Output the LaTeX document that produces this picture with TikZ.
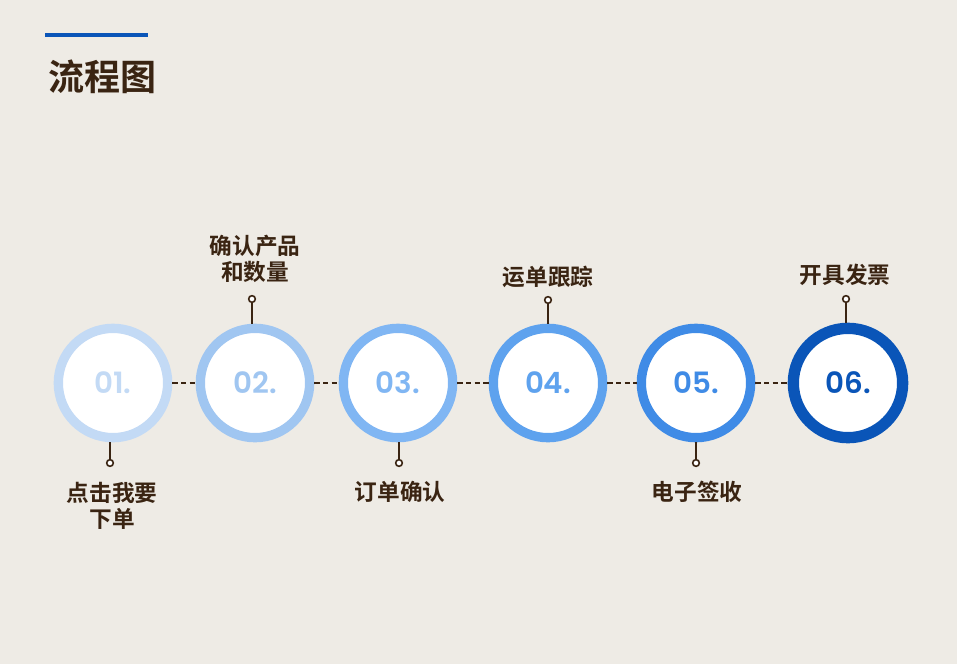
\documentclass[tikz,border=0pt]{standalone}
\usepackage{fontspec}
\newfontfamily\cjk{Noto Sans CJK SC}[BoldFont={Noto Sans CJK SC Bold}]
\newfontfamily\numfont{Poppins}[BoldFont={Poppins SemiBold}]
\definecolor{bgc}{HTML}{EEEBE5}
\definecolor{txt}{HTML}{3A2412}
\definecolor{cA}{HTML}{C3DAF5}
\definecolor{cB}{HTML}{A0C6F1}
\definecolor{cC}{HTML}{80B6F3}
\definecolor{cD}{HTML}{5EA2EE}
\definecolor{cE}{HTML}{3F8BE6}
\definecolor{cF}{HTML}{0A55B8}
\tikzset{
  ring/.style={circle, draw=#1, line width=7pt, fill=white, minimum size=82pt, inner sep=0pt,
    text=#1, font=\numfont\bfseries\fontsize{22}{22}\selectfont},
  lbl/.style={text=txt, font=\cjk\bfseries\fontsize{17}{20}\selectfont, align=center},
  pin/.style={circle, draw=txt, line width=1.2pt, fill=white, minimum size=5pt, inner sep=0pt},
  link/.style={draw=txt, line width=1.6pt, dash pattern=on 4pt off 2.5pt},
  stem/.style={draw=txt, line width=1.2pt}
}
\begin{document}
\begin{tikzpicture}[x=0.75pt, y=-0.75pt]
  \fill[bgc] (0,0) rectangle (957,664);
  \useasboundingbox (0,0) rectangle (957,664);
  % title
  \draw[cF, line width=2.4pt] (45,35) -- (148,35);
  \node[text=txt, font=\cjk\bfseries\fontsize{27}{27}\selectfont, anchor=west] (title) at (44,77) {流程图};
  % steps
  \node[ring=cA] (s1) at (113,383) {01.};
  \node[ring=cB] (s2) at (255,383) {02.};
  \node[ring=cC] (s3) at (398,383) {03.};
  \node[ring=cD] (s4) at (548,383) {04.};
  \node[ring=cE] (s5) at (696,383) {05.};
  \node[ring=cF, line width=8.5pt] (s6) at (848,383) {06.};
  \foreach \a/\b in {s1/s2, s2/s3, s3/s4, s4/s5, s5/s6}
    \draw[link] (\a.east) -- (\b.west);
  % pins
  \node[pin] (p1) at (110,463) {};
  \node[pin] (p2) at (252,299) {};
  \node[pin] (p3) at (399,463) {};
  \node[pin] (p4) at (548,300) {};
  \node[pin] (p5) at (696,463) {};
  \node[pin] (p6) at (846,299) {};
  \draw[stem] (p1) -- (p1 |- s1.south);
  \draw[stem] (p2) -- (p2 |- s2.north);
  \draw[stem] (p3) -- (p3 |- s3.south);
  \draw[stem] (p4) -- (p4 |- s4.north);
  \draw[stem] (p5) -- (p5 |- s5.south);
  \draw[stem] (p6) -- (p6 |- s6.north);
  % labels
  \node[lbl] (l1) at (112,506) {点击我要\\下单};
  \node[lbl] (l2) at (255,259) {确认产品\\和数量};
  \node[lbl] (l3) at (400,492) {订单确认};
  \node[lbl] (l4) at (548,277) {运单跟踪};
  \node[lbl] (l5) at (697,492) {电子签收};
  \node[lbl] (l6) at (845,275) {开具发票};
\end{tikzpicture}
\end{document}
